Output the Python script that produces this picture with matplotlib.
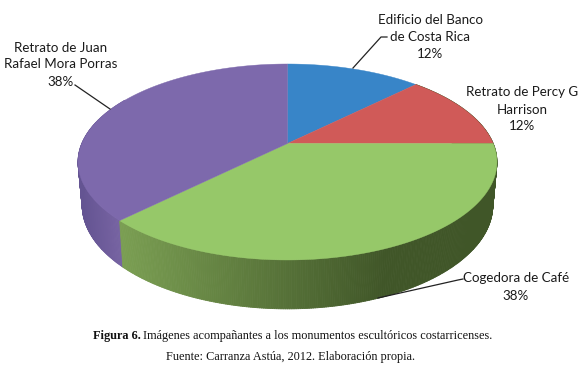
import numpy as np
import matplotlib
matplotlib.use("Agg")
import matplotlib.pyplot as plt
from matplotlib.collections import PolyCollection

categories = ["Edificio del Banco\nde Costa Rica", "Retrato de Percy G\nHarrison", "Cogedora de Café", "Retrato de Juan\nRafael Mora Porras"]
values = [12.5, 12.5, 37.5, 37.5]
labels_pct = ["12%", "12%", "38%", "38%"]
top_colors = ["#3885C8", "#D05A58", "#96C869", "#7D69AC"]

CX, CY = 287.5, 143.5
TOP = dict(A=205.7, B=94.5, k=0.1887, dy=0.0)
BOT = dict(A=201.6, B=100.0, k=0.19, dy=41.9)

def project(theta_deg, p):
    t = np.radians(theta_deg)
    u, v = np.sin(t), np.cos(t)
    den = 1 + p["k"] * v
    return CX + p["A"] * u / den, CY + p["dy"] - p["B"] * v / den

fig = plt.figure(figsize=(5.8, 3.71), dpi=100)
ax = fig.add_axes([0, 0, 1, 1])
ax.set_xlim(0, 580)
ax.set_ylim(371, 0)
ax.axis("off")

edges = np.concatenate([[0], np.cumsum(values)]) / sum(values) * 360

# side wall, green then purple, shaded by horizontal position
def side(start, end, light, dark, x0, x1):
    th = np.arange(start, end + 0.25, 0.5)
    polys, cols = [], []
    light, dark = np.array(light), np.array(dark)
    for a, b in zip(th[:-1], th[1:]):
        xa, ya = project(a, TOP); xb, yb = project(b, TOP)
        xc, yc = project(b, BOT); xd, yd = project(a, BOT)
        polys.append([(xa, ya), (xb, yb), (xc, yc), (xd, yd)])
        f = np.clip(((xa + xb) / 2 - x0) / (x1 - x0), 0, 1)
        cols.append((light + (dark - light) * f) / 255)
    ax.add_collection(PolyCollection(polys, facecolors=cols, edgecolors=cols, linewidths=0.6))

side(edges[3], 300, (100, 84, 146), (122, 102, 165), 80, 125)
side(edges[1], edges[3], (122, 158, 82), (64, 86, 40), 122, 385)

for c, a, b in zip(top_colors, edges[:-1], edges[1:]):
    th = np.linspace(a, b, 200)
    x, y = project(th, TOP)
    ax.fill(np.r_[CX, x], np.r_[CY, y], color=c, lw=0.3, zorder=3)

# leader lines
lw = 0.9
leaders = [
    ([353, 381, 387], [68, 37, 37]),
    ([378, 458, 463], [298, 280, 279]),
    ([110, 75], [109, 85]),
]
for lx, ly in leaders:
    ax.plot(lx, ly, color="#222222", lw=lw, zorder=4)

lab = dict(family="Lato", fontsize=9.6, color="#1a1a1a", ha="center", va="center", linespacing=1.5, zorder=5)
ax.text(430, 37, categories[0] + "\n" + labels_pct[0], **lab)
ax.text(522, 109.5, categories[1] + "\n" + labels_pct[1], **lab)
ax.text(516, 287, categories[2] + "\n" + labels_pct[2], **lab)
ax.text(61, 64.5, categories[3] + "\n" + labels_pct[3], **lab)

cap = dict(family="Liberation Serif", fontsize=8.8, color="#111111", va="center")
ax.text(141, 336, "Figura 6.", fontweight="bold", ha="right", **cap)
ax.text(143, 336, "Imágenes acompañantes a los monumentos escultóricos costarricenses.", ha="left", **cap)
ax.text(291, 357, "Fuente: Carranza Astúa, 2012. Elaboración propia.", ha="center", **cap)

fig.savefig("out.png", dpi=100)
